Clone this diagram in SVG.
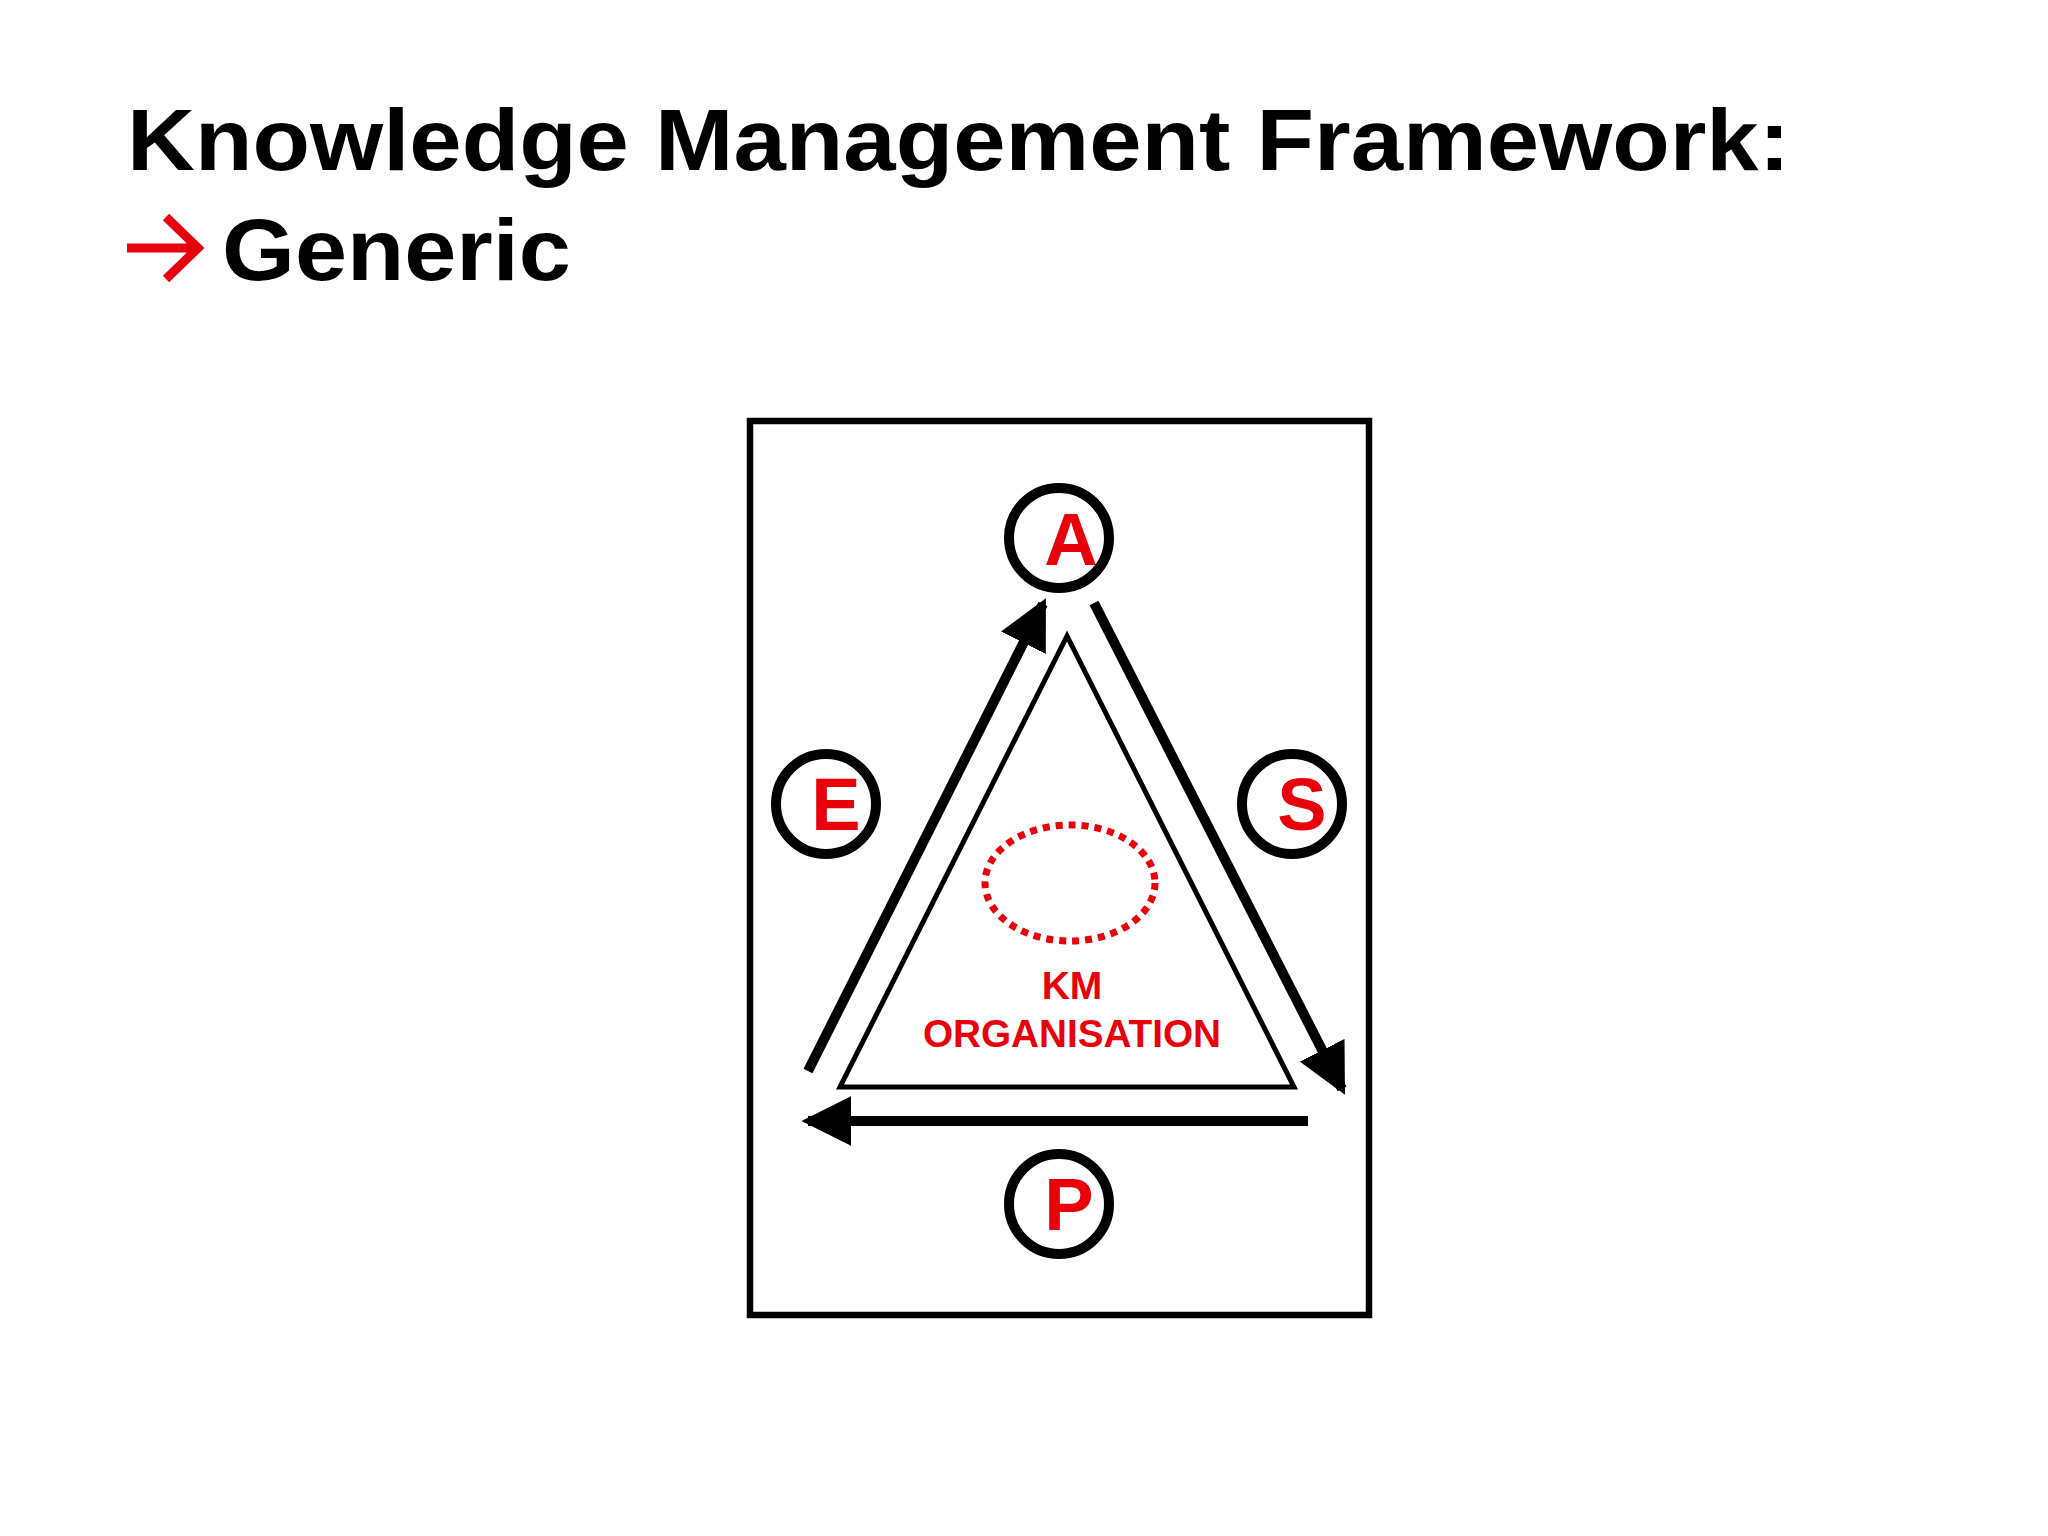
<svg xmlns="http://www.w3.org/2000/svg" width="2048" height="1536" viewBox="0 0 2048 1536">
<defs>
<style>
.t{font-family:"Liberation Sans",Arial,sans-serif;font-weight:bold}
.c{fill:#fff;stroke:#000;stroke-width:10}
.l{fill:#e8000b;font-size:74px;text-anchor:middle}
.a{stroke:#000;stroke-width:10;fill:none;marker-end:url(#ah)}
</style>
<marker id="ah" markerUnits="userSpaceOnUse" markerWidth="50" markerHeight="50" viewBox="0 0 46 46" refX="40" refY="23" orient="auto"><path d="M0,0 L46,23 L0,46 Z" fill="#000"/></marker>
</defs>
<rect width="2048" height="1536" fill="#fff"/>
<text class="t" x="127" y="170" font-size="88" textLength="1663" lengthAdjust="spacingAndGlyphs">Knowledge Management Framework:</text>
<path d="M127,248 H196 M166,217 L198,248 L166,279" stroke="#e8000b" stroke-width="9" fill="none"/>
<text class="t" x="222" y="280" font-size="88" textLength="349" lengthAdjust="spacingAndGlyphs">Generic</text>
<rect x="750" y="421" width="619" height="894" fill="none" stroke="#000" stroke-width="6.5"/>
<g id="triangle"><polygon points="1067,636 840,1087 1294,1087" fill="none" stroke="#000" stroke-width="5"/>
<ellipse cx="1070" cy="883" rx="85" ry="58" fill="none" stroke="#e8000b" stroke-width="7" stroke-dasharray="7 6"/>
<text class="t" x="1072" y="999" font-size="39" fill="#e8000b" text-anchor="middle">KM</text>
<text class="t" x="1072" y="1047" font-size="39" fill="#e8000b" text-anchor="middle" textLength="298" lengthAdjust="spacingAndGlyphs">ORGANISATION</text></g>
<g id="connectors">
<line class="a" x1="808" y1="1071" x2="1043" y2="604"/>
<line class="a" x1="1094" y1="603" x2="1342" y2="1089"/>
<line class="a" x1="1308" y1="1121" x2="808" y2="1121"/>
</g>
<g id="A"><circle class="c" cx="1059" cy="538" r="50"/><text class="t l" x="1071" y="565">A</text></g>
<g id="E"><circle class="c" cx="826" cy="804" r="50"/><text class="t l" x="836" y="830">E</text></g>
<g id="S"><circle class="c" cx="1292" cy="804" r="50"/><text class="t l" x="1302" y="830">S</text></g>
<g id="P"><circle class="c" cx="1059" cy="1204" r="50"/><text class="t l" x="1069" y="1230">P</text></g>
</svg>
